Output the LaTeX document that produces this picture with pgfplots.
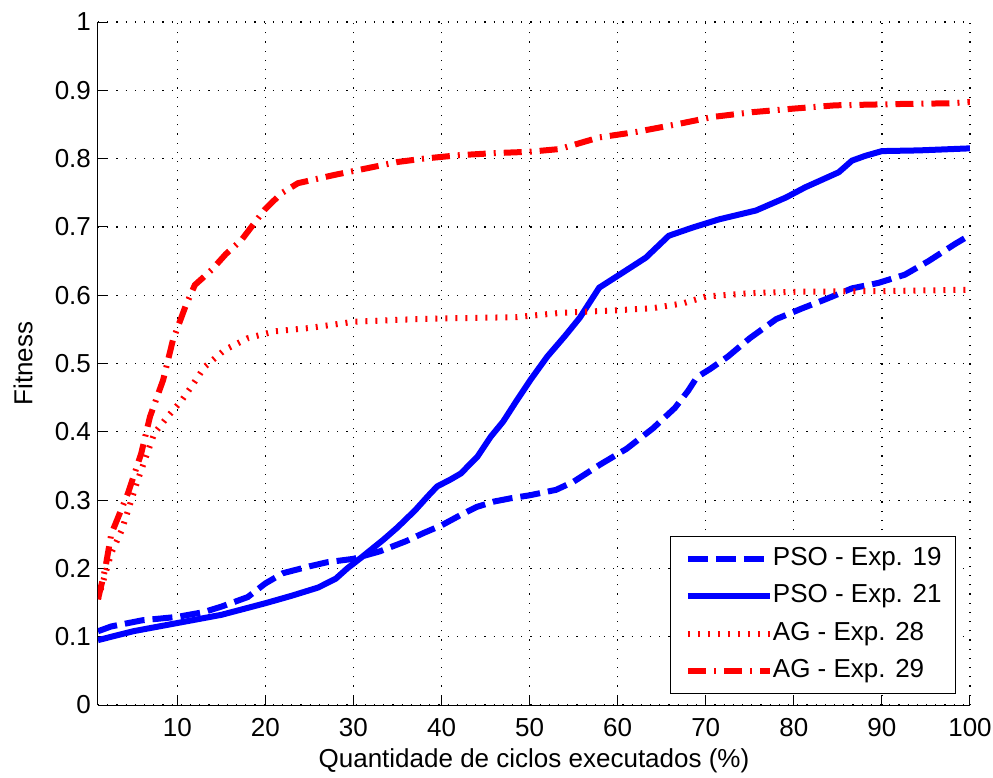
\documentclass[border=0pt]{standalone}
\usepackage{pgfplots}
\pgfplotsset{compat=1.18}
\usepackage{fontspec}
\setmainfont{Liberation Sans}
\definecolor{mblue}{RGB}{0,0,255}
\definecolor{mred}{RGB}{255,0,0}
\begin{document}
\begin{tikzpicture}
\useasboundingbox (-49pt,-36.5pt) rectangle (447.5pt,352.5pt);
\begin{axis}[
  at={(0,0)}, anchor=south west,
  scale only axis, width=436pt, height=341.5pt,
  xmin=1, xmax=100, ymin=0, ymax=1,
  xtick={10,20,30,40,50,60,70,80,90,100},
  ytick={0,0.1,0.2,0.3,0.4,0.5,0.6,0.7,0.8,0.9,1},
  axis x line=bottom, axis y line=left,
  axis line style={-, line width=0.5pt, black},
  tick style={black, line width=0.5pt},
  tick align=inside, major tick length=5pt,
  grid=major,
  major grid style={black, line width=0.6pt, dash pattern=on 0.6pt off 4pt},
  /pgf/number format/assume math mode=true,
  every tick label/.append style={font=\fontsize{13pt}{15pt}\selectfont},
  xticklabel style={yshift=-3pt},
  label style={font=\fontsize{13pt}{15pt}\selectfont},
  xlabel={Quantidade de ciclos executados (\%)},
  ylabel={Fitness},
  x label style={at={(axis description cs:0.5,-0.082)}, anchor=center},
  y label style={at={(axis description cs:-0.086,0.5)}, anchor=center},
  legend style={at={(rel axis cs:0.984,0.016)}, anchor=south east,
    font=\fontsize{13pt}{15pt}\selectfont, draw=black, line width=0.5pt,
    inner xsep=7pt, inner ysep=5pt, row sep=6.25pt,
    nodes={inner sep=0pt, text height=9.5pt, text depth=3pt},
    /tikz/every even column/.append style={column sep=3pt}},
  legend cell align=left,
  legend image code/.code={\draw[#1] (0pt,0pt) -- (41pt,0pt);},
]
\addplot[mblue, line width=3pt, dash pattern=on 10pt off 4pt] coordinates {
(1,0.108) (2.5,0.115) (6,0.124) (10,0.129) (13,0.136) (15,0.144) (18,0.158) (20,0.178) (22,0.193) (25,0.203) (27,0.209) (30,0.214) (33,0.225) (36,0.24) (38,0.252) (40,0.263) (42,0.277) (44,0.29) (46,0.298) (48,0.303) (50,0.307) (53,0.315) (55,0.327) (58,0.352) (61,0.375) (64,0.405) (66.5,0.435) (68,0.46) (69,0.48) (70.5,0.492) (72.5,0.51) (75,0.537) (78,0.565) (81,0.581) (83.6,0.594) (86.6,0.61) (89.6,0.618) (92.6,0.63) (95.3,0.65) (98.3,0.675) (100,0.688)
};
\addlegendentry{PSO - Exp. 19}
\addplot[mblue, line width=3pt] coordinates {
(1,0.095) (5,0.108) (10,0.12) (15,0.132) (20,0.149) (23,0.16) (26,0.172) (28,0.185) (29.3,0.2) (31,0.217) (33.4,0.242) (35,0.26) (37,0.285) (38.4,0.305) (39.5,0.32) (41,0.33) (42.2,0.339) (44.1,0.364) (45.6,0.393) (47,0.415) (48.5,0.445) (50.1,0.476) (52,0.51) (54,0.54) (55.7,0.567) (57.9,0.611) (60.2,0.63) (63.2,0.655) (65.8,0.687) (68.5,0.699) (71.5,0.711) (75.7,0.724) (79.1,0.743) (81.3,0.758) (85.1,0.78) (86.6,0.797) (88.1,0.804) (90,0.811) (94.2,0.812) (100,0.815)
};
\addlegendentry{PSO - Exp. 21}
\addplot[mred, line width=3pt, line cap=butt, dash pattern=on 1pt off 4pt] coordinates {
(1,0.155) (2.5,0.222) (3.7,0.256) (5.5,0.329) (7.4,0.398) (8.9,0.422) (10.5,0.446) (11.6,0.466) (13.1,0.495) (15.4,0.52) (18,0.537) (21,0.547) (25,0.552) (30,0.561) (35,0.564) (40,0.566) (45,0.567) (48.6,0.568) (53.4,0.574) (60,0.578) (64,0.581) (67.4,0.588) (70,0.598) (75,0.603) (80,0.605) (90,0.606) (100,0.608)
};
\addlegendentry{AG - Exp. 28}
\addplot[mred, line width=3pt, line cap=butt, dash pattern=on 9pt off 4pt on 1pt off 4pt] coordinates {
(1,0.155) (1.8,0.198) (2.5,0.25) (4.4,0.31) (5.9,0.368) (6.9,0.422) (8.4,0.476) (9.5,0.534) (11,0.586) (12,0.615) (13.9,0.637) (15.5,0.66) (17.3,0.681) (19.9,0.725) (21.8,0.749) (23.7,0.764) (27.8,0.776) (31.6,0.786) (35,0.795) (38,0.8) (42,0.805) (46,0.808) (50,0.81) (53.4,0.814) (57.9,0.831) (62.1,0.839) (67,0.851) (70.8,0.861) (75.3,0.868) (79.8,0.873) (84.7,0.878) (92.3,0.88) (97.9,0.881) (100,0.883)
};
\addlegendentry{AG - Exp. 29}
\end{axis}
\end{tikzpicture}
\end{document}
